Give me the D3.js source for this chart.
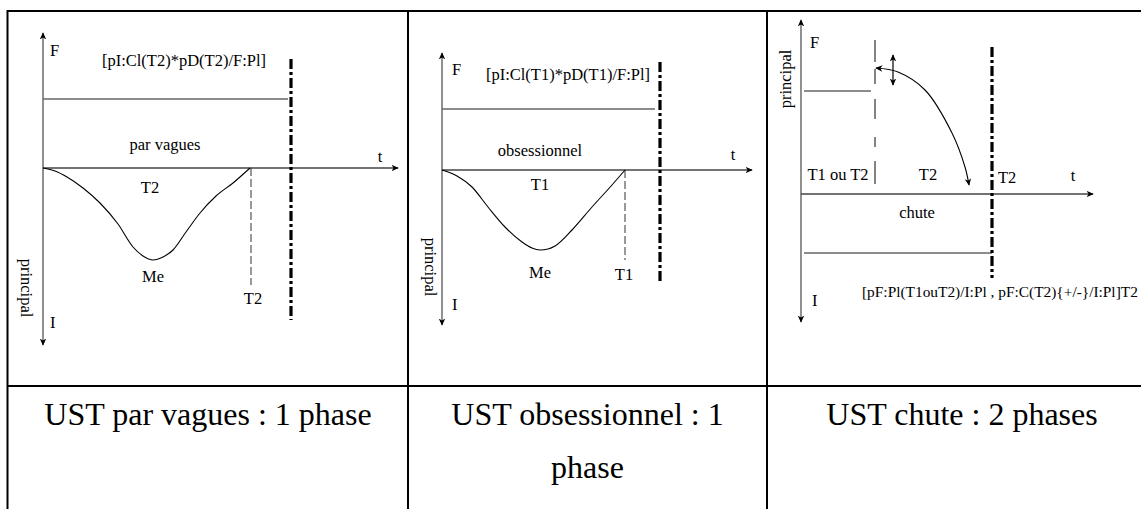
<!DOCTYPE html>
<html>
<head>
<meta charset="utf-8">
<script src="https://cdn.jsdelivr.net/npm/d3@7"></script>
<style>
  html, body { margin: 0; padding: 0; background: #fff; }
  svg { display: block; }
  text { font-family: "Liberation Serif", "Times New Roman", serif; fill: #000; }
</style>
</head>
<body>
<svg id="chart" width="1141" height="509"></svg>
<script>
// ---------- DATA ----------
const panelTitles = [["UST par vagues : 1 phase"], ["UST obsessionnel : 1", "phase"], ["UST chute : 2 phases"]];
const formulas = ["[pI:Cl(T2)*pD(T2)/F:Pl]", "[pI:Cl(T1)*pD(T1)/F:Pl]", "[pF:Pl(T1ouT2)/I:Pl , pF:C(T2){+/-}/I:Pl]T2"];
const typeLabels = ["par vagues", "obsessionnel", "chute"];
// curves: [t, value] in local units (t right, value up) relative to axis origin
const curveVagues = [[0,0],[12,-3],[24,-9],[40,-20],[57,-35],[75,-56],[90,-79],[100,-88],[110,-92],[120,-89],[130,-82],[143,-64],[157,-45],[173,-28],[190,-15],[207,0]];
const curveObsessionnel = [[0,0],[15,-6],[30,-17],[46,-37],[63,-57],[80,-72],[90,-78],[98,-80],[106,-79],[113,-76],[130,-60],[150,-37],[170,-15],[183,0]];
const arcChute = [[75,126],[97,122],[124,104],[151,61],[164,27],[168,9]];

const svg = d3.select("#chart");
const font = 16.5;

// markers
const defs = svg.append("defs");
defs.append("marker").attr("id","arr").attr("viewBox","0 -5 10 10")
  .attr("refX",8).attr("refY",0).attr("markerWidth",8).attr("markerHeight",8)
  .attr("markerUnits","userSpaceOnUse").attr("orient","auto-start-reverse")
  .append("path").attr("d","M0,-4 L9,0 L0,4 L2.5,0 Z").attr("fill","#000");

// ---------- TABLE ----------
const tbl = svg.append("g");
const tline = (x1,y1,x2,y2) => tbl.append("line").attr("x1",x1).attr("y1",y1).attr("x2",x2).attr("y2",y2)
  .attr("stroke","#000").attr("stroke-width",2);
tline(7.5, 11, 1141, 11);
tline(7.5, 10, 7.5, 509);
tline(408, 10, 408, 509);
tline(767, 10, 767, 509);
tline(7.5, 386, 1141, 386);

const titleX = [208, 587.5, 962];
panelTitles.forEach((lines, i) => {
  lines.forEach((l, j) => {
    svg.append("text").attr("x", titleX[i]).attr("y", 425 + j*53)
      .attr("text-anchor","middle").attr("font-size", 32).text(l);
  });
});

// ---------- panel helper ----------
function panel(cfg) {
  const g = svg.append("g");
  const x = d3.scaleLinear().domain([0, 100]).range([cfg.ox, cfg.ox + 100]);
  const y = d3.scaleLinear().domain([0, 100]).range([cfg.oy, cfg.oy - 100]);
  g.append("line").attr("x1", x(0)).attr("x2", x(0)).attr("y1", y(cfg.yTop)).attr("y2", y(cfg.yBot))
    .attr("stroke","#555").attr("stroke-width",1.3)
    .attr("marker-start","url(#arr)").attr("marker-end","url(#arr)");
  g.append("line").attr("x1", x(0)).attr("x2", x(cfg.tEnd)).attr("y1", y(0)).attr("y2", y(0))
    .attr("stroke","#444").attr("stroke-width",1.3).attr("marker-end","url(#arr)");
  return {g, x, y};
}
function txt(g, x, y, s, anchor, rot) {
  const t = g.append("text").attr("font-size", font).attr("text-anchor", anchor || "middle").text(s);
  if (rot) t.attr("transform", `translate(${x},${y}) rotate(${rot})`);
  else t.attr("x", x).attr("y", y);
  return t;
}
const dashDot = "10,3,3,3";
const smooth = d3.curveMonotoneX;

// ---------- Panel 1 ----------
{
  const {g, x, y} = panel({ox: 43, oy: 168, yTop: 135, yBot: -177, tEnd: 355});
  g.append("line").attr("x1", x(0)).attr("x2", x(245)).attr("y1", y(69)).attr("y2", y(69))
    .attr("stroke","#666").attr("stroke-width",1.3);
  g.append("line").attr("x1", x(248)).attr("x2", x(248)).attr("y1", y(109)).attr("y2", y(-152))
    .attr("stroke","#000").attr("stroke-width",3.2).attr("stroke-dasharray", dashDot);
  g.append("line").attr("x1", x(208)).attr("x2", x(208)).attr("y1", y(0)).attr("y2", y(-117))
    .attr("stroke","#333").attr("stroke-width",1).attr("stroke-dasharray","8,3");
  g.append("path").datum(curveVagues)
    .attr("d", d3.line().x(d => x(d[0])).y(d => y(d[1])).curve(smooth))
    .attr("fill","none").attr("stroke","#000").attr("stroke-width",1.1);
  txt(g, 50, 56, "F", "start");
  txt(g, 184, 66, formulas[0]);
  txt(g, 165, 150, typeLabels[0]);
  txt(g, 380, 162, "t");
  txt(g, 150, 193, "T2");
  txt(g, 153, 282, "Me");
  txt(g, 253, 304, "T2");
  txt(g, 50, 328, "I", "start");
  txt(g, 21, 288, "principal", "middle", 90);
}

// ---------- Panel 2 ----------
{
  const {g, x, y} = panel({ox: 442, oy: 170, yTop: 117, yBot: -155, tEnd: 310});
  g.append("line").attr("x1", x(0)).attr("x2", x(213)).attr("y1", y(61)).attr("y2", y(61))
    .attr("stroke","#666").attr("stroke-width",1.3);
  g.append("line").attr("x1", x(218)).attr("x2", x(218)).attr("y1", y(108)).attr("y2", y(-113))
    .attr("stroke","#000").attr("stroke-width",3.2).attr("stroke-dasharray", dashDot);
  g.append("line").attr("x1", x(183)).attr("x2", x(183)).attr("y1", y(0)).attr("y2", y(-90))
    .attr("stroke","#333").attr("stroke-width",1).attr("stroke-dasharray","8,3");
  g.append("path").datum(curveObsessionnel)
    .attr("d", d3.line().x(d => x(d[0])).y(d => y(d[1])).curve(smooth))
    .attr("fill","none").attr("stroke","#000").attr("stroke-width",1.1);
  txt(g, 452, 75, "F", "start");
  txt(g, 568, 80, formulas[1]);
  txt(g, 540, 156, typeLabels[1]);
  txt(g, 733, 160, "t");
  txt(g, 540, 190, "T1");
  txt(g, 540, 278, "Me");
  txt(g, 624, 280, "T1");
  txt(g, 452, 310, "I", "start");
  txt(g, 425, 267, "principal", "middle", 90);
}

// ---------- Panel 3 ----------
{
  const {g, x, y} = panel({ox: 801, oy: 194, yTop: 174, yBot: -128, tEnd: 292});
  g.append("line").attr("x1", x(3)).attr("x2", x(70)).attr("y1", y(103)).attr("y2", y(103))
    .attr("stroke","#666").attr("stroke-width",1.3);
  g.append("line").attr("x1", x(3)).attr("x2", x(191)).attr("y1", y(-59)).attr("y2", y(-59))
    .attr("stroke","#666").attr("stroke-width",1.3);
  g.append("line").attr("x1", x(74)).attr("x2", x(74)).attr("y1", y(154)).attr("y2", y(9))
    .attr("stroke","#333").attr("stroke-width",1.2).attr("stroke-dasharray","22,7,15,15,20,18,10,14,23");
  g.append("line").attr("x1", x(191)).attr("x2", x(191)).attr("y1", y(147)).attr("y2", y(-84))
    .attr("stroke","#000").attr("stroke-width",3.2).attr("stroke-dasharray", dashDot);
  g.append("line").attr("x1", x(92)).attr("x2", x(92)).attr("y1", y(139)).attr("y2", y(109))
    .attr("stroke","#000").attr("stroke-width",1.2)
    .attr("marker-start","url(#arr)").attr("marker-end","url(#arr)");
  g.append("path").datum(arcChute)
    .attr("d", d3.line().x(d => x(d[0])).y(d => y(d[1])).curve(d3.curveCatmullRom))
    .attr("fill","none").attr("stroke","#000").attr("stroke-width",1.1)
    .attr("marker-start","url(#arr)").attr("marker-end","url(#arr)");
  txt(g, 810, 48, "F", "start");
  txt(g, 838, 180, "T1 ou T2");
  txt(g, 928, 180, "T2");
  txt(g, 998, 183, "T2", "start");
  txt(g, 1073, 181, "t");
  txt(g, 917, 218, typeLabels[2]);
  const ft = txt(g, 862, 297, formulas[2], "start");
  const w = ft.node().getComputedTextLength();
  const maxW = 276;
  if (w > maxW) ft.attr("font-size", font * maxW / w);
  txt(g, 812, 306, "I", "start");
  txt(g, 791, 79, "principal", "middle", -90);
}
</script>
</body>
</html>
